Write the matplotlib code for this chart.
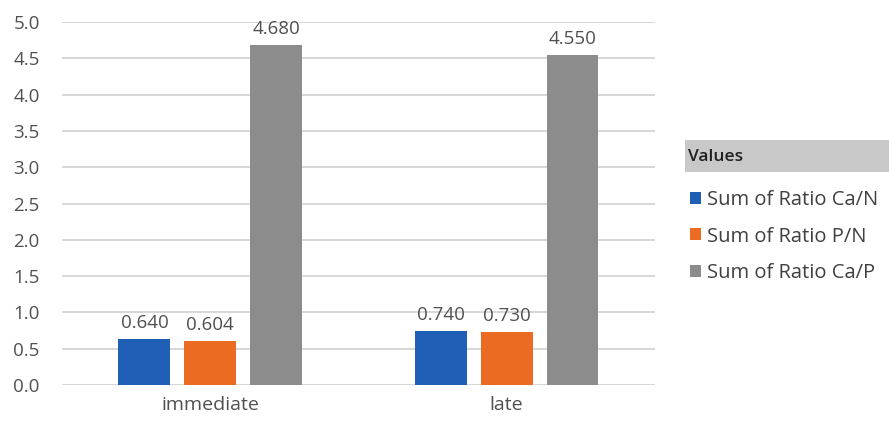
import matplotlib
matplotlib.use("Agg")
import matplotlib.pyplot as plt
from matplotlib.patches import Rectangle
import numpy as np

plt.rcParams['font.family'] = ['Open Sans', 'DejaVu Sans']

categories = ["immediate", "late"]
series_names = ["Sum of Ratio Ca/N", "Sum of Ratio P/N", "Sum of Ratio Ca/P"]
ca_n = [0.640, 0.740]
p_n = [0.604, 0.730]
ca_p = [4.680, 4.550]
colors = ["#1F5FB5", "#EC6B22", "#8C8C8C"]

fig = plt.figure(figsize=(8.89, 4.28), dpi=100)
ax = fig.add_axes([0.0697, 0.1005, 0.667, 0.848])

x = np.arange(len(categories))
width = 0.175
step = 0.222
handles = []
for i, (vals, name, c) in enumerate(zip([ca_n, p_n, ca_p], series_names, colors)):
    bars = ax.bar(x + (i - 1) * step, vals, width, color=c, label=name, zorder=3)
    ax.bar_label(bars, labels=[f"{v:.3f}" for v in vals], padding=5,
                 fontsize=13.5, color="#505050")
    handles.append(bars)

ax.set_xlim(-0.5, 1.5)
ax.set_ylim(0, 5.0)
ax.set_yticks(np.arange(0, 5.01, 0.5))
ax.set_yticklabels([f"{v:.1f}" for v in np.arange(0, 5.01, 0.5)])
ax.set_xticks(x)
ax.set_xticklabels(categories)
ax.grid(axis='y', color="#D4D4D4", linewidth=1.3, zorder=0)
for s in ax.spines.values():
    s.set_visible(False)
ax.tick_params(axis='both', length=0, labelsize=13.5, colors="#505050")
ax.tick_params(axis='x', pad=8, labelsize=14)
ax.tick_params(axis='y', pad=16)

# Legend header
fig.patches.append(Rectangle((685 / 889, 1 - 172 / 428), 204 / 889, 32 / 428,
                             transform=fig.transFigure, facecolor="#C8C8C8",
                             edgecolor="none"))
fig.text(688 / 889, 1 - 157 / 428, "Values", fontsize=12.5, color="#202020",
         va="center", ha="left", fontweight="semibold")

leg = fig.legend(handles=handles, labels=series_names, loc="upper left",
                 bbox_to_anchor=(690 / 889, 1 - 190 / 428), frameon=False,
                 fontsize=14.5, handlelength=0.55, handleheight=0.55,
                 handletextpad=0.3, labelspacing=0.82, borderaxespad=0,
                 borderpad=0)
for t in leg.get_texts():
    t.set_color("#404040")

fig.savefig("out.png", dpi=100)
